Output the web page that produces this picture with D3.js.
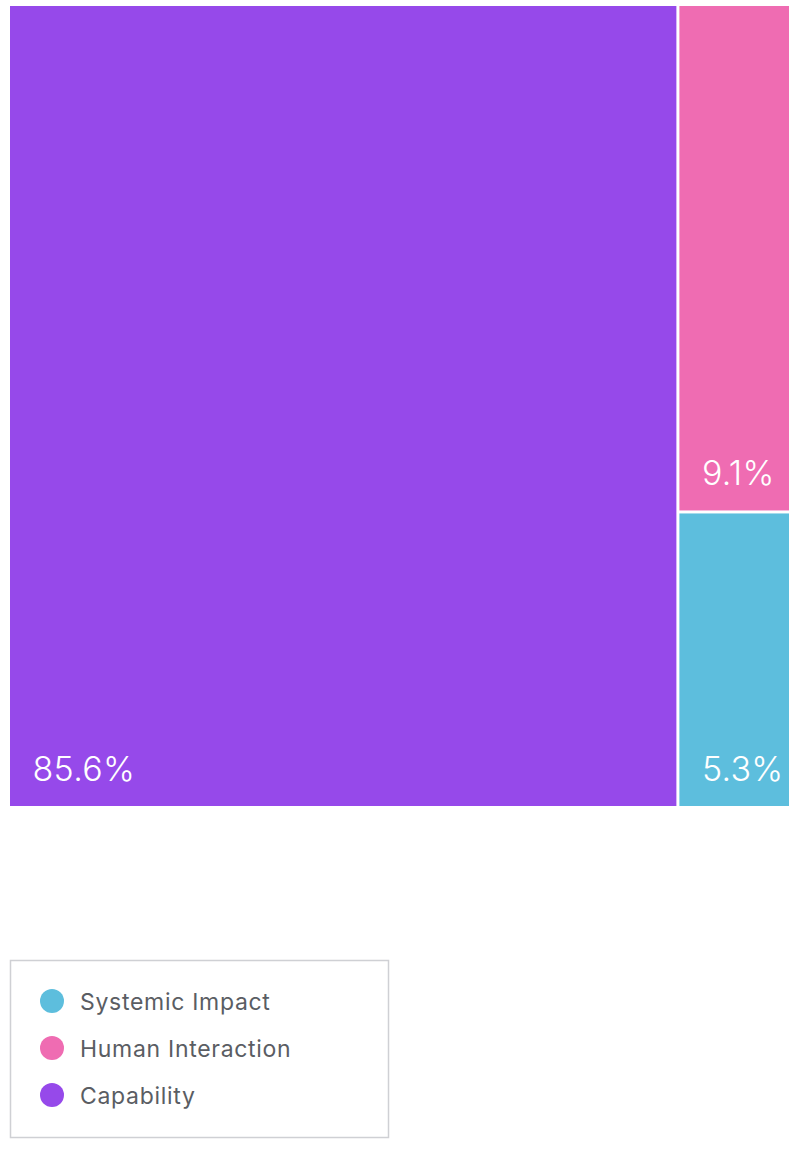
<!DOCTYPE html>
<html>
<head>
<meta charset="utf-8">
<script src="https://cdn.jsdelivr.net/npm/d3@7"></script>
<style>
  body { margin: 0; background: #fff; }
  text { font-family: Inter, "Noto Sans", sans-serif; }
</style>
</head>
<body>
<div id="chart"></div>
<script>
// data
var categories = ["Capability", "Human Interaction", "Systemic Impact"];
var values = [85.6, 9.1, 5.3];
var colors = ["#9649ea", "#ef6cb2", "#5dbedd"];
var legendOrder = ["Systemic Impact", "Human Interaction", "Capability"];

var width = 798, height = 1150;

var svg = d3.select("#chart")
    .append("svg")
    .attr("width", width)
    .attr("height", height);

var color = d3.scaleOrdinal().domain(categories).range(colors);

var root = d3.hierarchy({
        children: categories.map(function (c, i) { return { name: c, value: values[i] }; })
    })
    .sum(function (d) { return d.value; })
    .sort(function (a, b) { return b.value - a.value; });

// biggest block takes a column on the left, the rest are stacked on the right
function columnTile(parent, x0, y0, x1, y1) {
    var kids = parent.children;
    var first = kids[0];
    var xm = x0 + (x1 - x0) * first.value / parent.value;
    first.x0 = x0; first.x1 = xm; first.y0 = y0; first.y1 = y1;
    var rest = kids.slice(1);
    d3.treemapSlice({ children: rest, value: d3.sum(rest, function (d) { return d.value; }) }, xm, y0, x1, y1);
}

d3.treemap()
    .tile(columnTile)
    .size([782, 803])
    (root);

var g = svg.append("g").attr("transform", "translate(8.5,4.5)");

var cell = g.selectAll("g.cell")
    .data(root.leaves())
    .enter()
    .append("g")
    .attr("class", "cell");

cell.append("rect")
    .attr("x", function (d) { return d.x0 + 1.5; })
    .attr("y", function (d) { return d.y0 + 1.5; })
    .attr("width", function (d) { return d.x1 - d.x0 - 3; })
    .attr("height", function (d) { return d.y1 - d.y0 - 3; })
    .attr("fill", function (d) { return color(d.data.name); });

cell.append("text")
    .attr("x", function (d) { return d.x0 + 24; })
    .attr("y", function (d) { return d.y1 - 27; })
    .attr("fill", "#fff")
    .style("font-size", "34px")
    .style("font-weight", 300)
    .style("letter-spacing", "0.3px")
    .text(function (d) { return d3.format(".1f")(d.data.value) + "%"; });

// legend
var legend = svg.append("g").attr("transform", "translate(10,960)");

legend.append("rect")
    .attr("x", 0.5)
    .attr("y", 0.5)
    .attr("width", 378)
    .attr("height", 177)
    .attr("fill", "#fff")
    .attr("stroke", "#cfd0d4")
    .attr("stroke-width", 1.5);

var item = legend.selectAll("g.item")
    .data(legendOrder)
    .enter()
    .append("g")
    .attr("class", "item")
    .attr("transform", function (d, i) { return "translate(42," + (41 + i * 47) + ")"; });

item.append("circle")
    .attr("r", 12)
    .attr("fill", function (d) { return color(d); });

item.append("text")
    .attr("x", 28)
    .attr("y", 9)
    .attr("fill", "#5a5d63")
    .style("font-size", "23px")
    .style("letter-spacing", "0.7px")
    .text(function (d) { return d; });
</script>
</body>
</html>
